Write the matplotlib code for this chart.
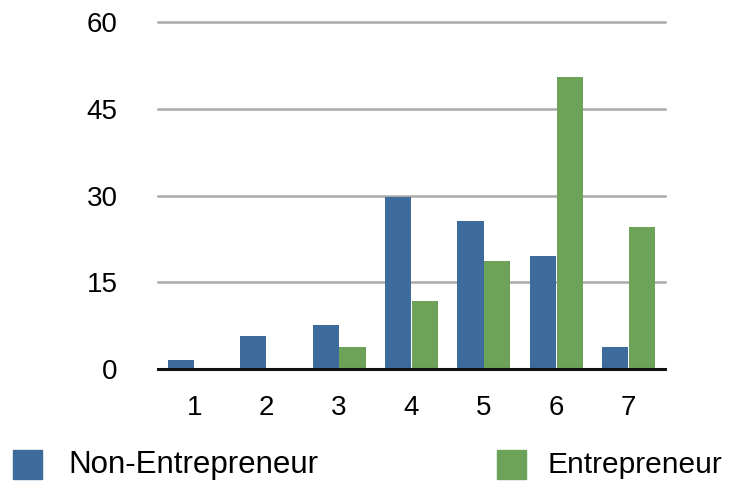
import matplotlib.pyplot as plt
import numpy as np
from matplotlib.patches import Rectangle

plt.rcParams['font.family'] = ['Liberation Sans', 'DejaVu Sans']

# data
categories = ['1', '2', '3', '4', '5', '6', '7']
non_entrepreneur = [1.6, 5.7, 7.6, 29.8, 25.6, 19.5, 3.8]
entrepreneur = [0, 0, 3.8, 11.8, 18.7, 50.5, 24.6]
yticks = [0, 15, 30, 45, 60]

blue = '#3c6b9c'
green = '#6ca358'

fig = plt.figure(figsize=(7.34, 4.83), dpi=100)
ax = fig.add_axes([158 / 734, 1 - 369 / 483, 507 / 734, 347 / 483])

x = np.arange(1, len(categories) + 1)
w = 0.36
ax.bar(x - w / 2 - 0.005, non_entrepreneur, width=w, color=blue, zorder=3)
ax.bar(x + w / 2 + 0.005, entrepreneur, width=w, color=green, zorder=3)

ax.set_xlim(0.5, 7.5)
ax.set_ylim(0, 60)
ax.set_yticks(yticks)
ax.set_xticks(x)
ax.set_xticklabels(categories)
ax.tick_params(length=0, labelsize=20, colors='black')
ax.tick_params(axis='y', pad=29)
ax.tick_params(axis='x', pad=19)

for t in yticks[1:]:
    ax.axhline(t, color='#aaaaaa', lw=1.8, zorder=1, clip_on=False)
ax.axhline(0, color='#111111', lw=2.2, zorder=4, clip_on=False)

for s in ax.spines.values():
    s.set_visible(False)

# legend drawn manually at the bottom
fig.patches.append(Rectangle((13 / 734, 1 - 479 / 483), 29 / 734, 29 / 483,
                             transform=fig.transFigure, color=blue))
fig.text(68 / 734, 1 - 465 / 483, 'Non-Entrepreneur', fontsize=22.5, va='center')
fig.patches.append(Rectangle((497 / 734, 1 - 479 / 483), 29 / 734, 29 / 483,
                             transform=fig.transFigure, color=green))
fig.text(548 / 734, 1 - 465 / 483, 'Entrepreneur', fontsize=21.5, va='center')

fig.savefig('out.png', dpi=100)
